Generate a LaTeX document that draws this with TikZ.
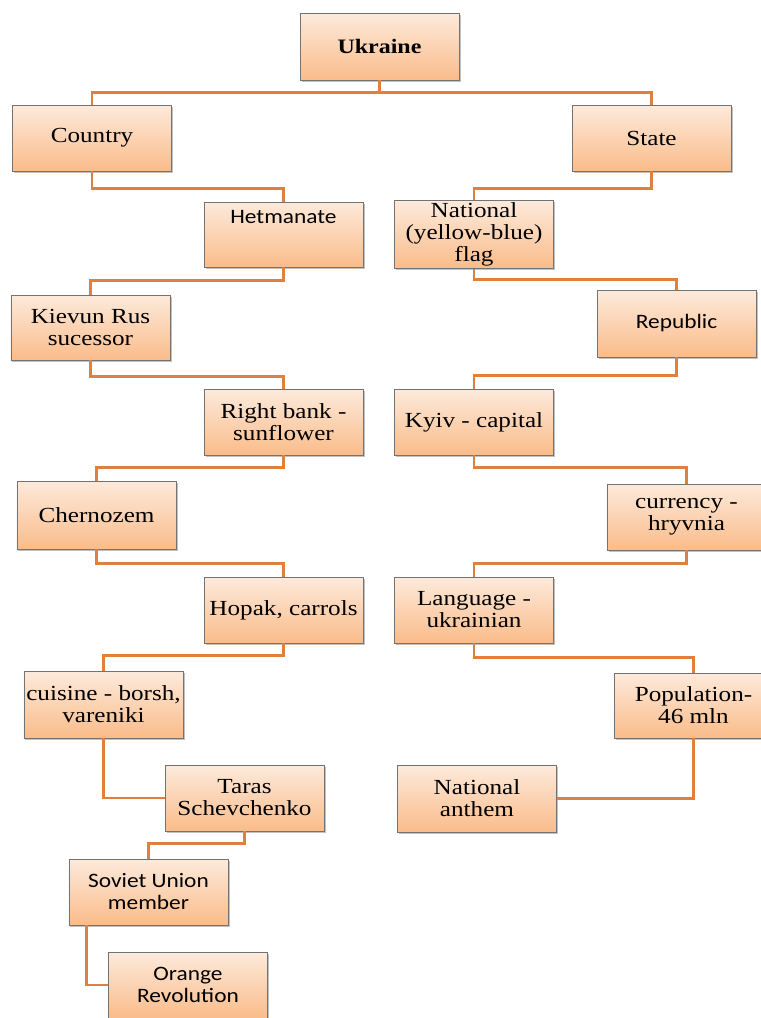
\documentclass[tikz,border=0pt]{standalone}
\usepackage{fontspec}
\setmainfont{Liberation Serif}[FakeStretch=1.17]
\newfontfamily\sansf{Carlito}[FakeStretch=1.14]
\usetikzlibrary{shadows}
\definecolor{boxtop}{RGB}{253,234,219}
\definecolor{boxbot}{RGB}{250,188,138}
\definecolor{connc}{RGB}{224,128,60}
\definecolor{boxline}{RGB}{115,115,115}
\begin{document}
\begin{tikzpicture}[x=1bp,y=-1bp,
  box/.style={draw=boxline, line width=0.6bp, top color=boxtop, bottom color=boxbot,
    minimum width=159bp, minimum height=66bp, inner sep=2bp, align=center,
    font=\fontsize{21.5bp}{22bp}\selectfont,
    drop shadow={shadow xshift=1.5bp, shadow yshift=-1.5bp, fill=black!40, opacity=0.6}},
  sbox/.style={box, font=\sansf\fontsize{20.5bp}{22bp}\selectfont},
  link/.style={draw=connc, line width=2.6bp}]
\fill[white] (0,0) rectangle (761,1018);
\useasboundingbox (0,0) rectangle (761,1018);

\node[box, minimum height=67bp, font=\bfseries\fontsize{20.5bp}{22bp}\selectfont] (ukr) at (379.5,46.5) {Ukraine};
\node[box] (country) at (92,138) {Country};
\node[box] (state) at (651.5,138) {State};
\node[sbox, minimum height=65bp] (het) at (283.5,234.5) {\raisebox{11bp}[0pt][0pt]{Hetmanate}};
\node[box, minimum height=65bp] (flag) at (474,234.5) {National\\(yellow-blue)\\flag};
\node[box, minimum height=65bp] (kiev) at (90.5,327.5) {Kievun Rus\\sucessor};
\node[sbox, minimum height=67bp] (rep) at (676.5,323.5) {Republic};
\node[box] (rb) at (283.5,422) {Right bank -\\sunflower};
\node[box] (kyiv) at (474,422) {Kyiv - capital};
\node[box, minimum height=68bp] (chern) at (96.5,515) {Chernozem};
\node[box] (cur) at (686.5,517) {currency -\\hryvnia};
\node[box] (hopak) at (283.5,610) {Hopak, carrols};
\node[box] (lang) at (474,610) {Language -\\ukrainian};
\node[box, minimum height=67bp] (cuis) at (103.5,704.5) {cuisine - borsh,\\vareniki};
\node[box, minimum height=65bp] (pop) at (693.5,705.5) {Population-\\46 mln};
\node[box] (taras) at (244.5,798) {Taras\\Schevchenko};
\node[box, minimum height=67bp] (anthem) at (477,798.5) {National\\anthem};
\node[sbox] (soviet) at (148.5,892) {Soviet Union\\member};
\node[sbox] (orange) at (188,985) {Orange\\Revolution};

\draw[link] (ukr.south) -- ++(0,12) -| (country.north);
\draw[link] (ukr.south) -- ++(0,12) -| (state.north);
\draw[link] (country.south) -- ++(0,17) -| (het.north);
\draw[link] (state.south) -- ++(0,17) -| (flag.north);
\draw[link] (het.south) -- ++(0,13) -| (kiev.north);
\draw[link] (flag.south) -- ++(0,11) -| (rep.north);
\draw[link] (kiev.south) -- ++(0,16) -| (rb.north);
\draw[link] (rep.south) -- ++(0,18) -| (kyiv.north);
\draw[link] (rb.south) -- ++(0,12) -| (chern.north);
\draw[link] (kyiv.south) -- ++(0,12) -| (cur.north);
\draw[link] (chern.south) -- ++(0,14) -| (hopak.north);
\draw[link] (cur.south) -- ++(0,13) -| (lang.north);
\draw[link] (hopak.south) -- ++(0,12) -| (cuis.north);
\draw[link] (lang.south) -- ++(0,14) -| (pop.north);
\draw[link] (cuis.south) |- (taras.west);
\draw[link] (pop.south) |- (anthem.east);
\draw[link] (taras.south) -- ++(0,12) -| (soviet.north);
\draw[link] ([xshift=18bp]soviet.south west) |- (orange.west);
\end{tikzpicture}
\end{document}
